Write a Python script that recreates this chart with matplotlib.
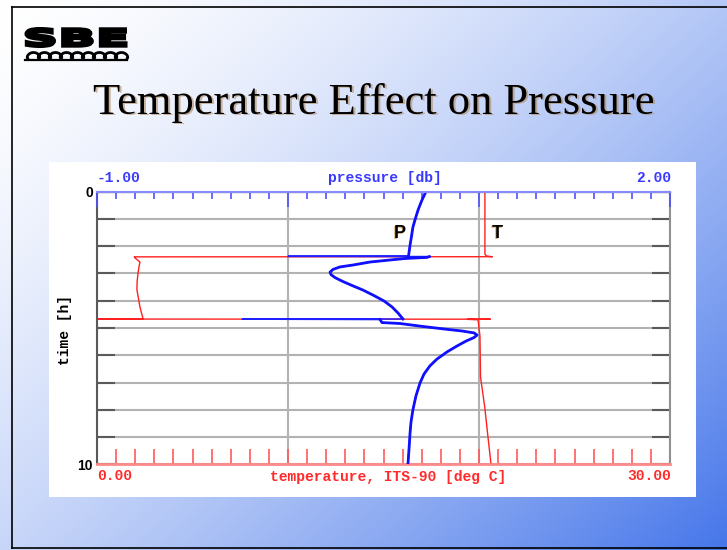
import numpy as np
import matplotlib
matplotlib.use("Agg")
import matplotlib.pyplot as plt
from matplotlib.patches import Rectangle, PathPatch
from matplotlib.textpath import TextPath
from matplotlib.font_manager import FontProperties
from matplotlib.transforms import Affine2D
from matplotlib.ticker import MultipleLocator

W, H = 727, 550

# pressure trace, drawn against the top axis [db]
p_time = [0.0, 0.33, 0.67, 0.96, 1.30, 1.62, 1.96, 2.21, 2.36, 2.37, 2.38,
          2.41, 2.45, 2.505, 2.58, 2.69, 2.76, 2.85, 2.95, 3.04, 3.15, 3.28, 3.44,
          3.61, 3.81, 4.01, 4.23, 4.45, 4.67, 4.675, 4.69,
          4.80, 4.835, 4.945, 5.04, 5.11, 5.18, 5.26, 5.35, 5.48, 5.66, 5.88, 6.14,
          6.39, 6.69, 7.02, 7.49, 8.0, 8.45, 8.85, 9.40, 10.0]
p_db = [0.722, 0.70, 0.681, 0.668, 0.654, 0.647, 0.639, 0.634, 0.631, 0.0, 0.74,
        0.728, 0.613, 0.534, 0.429, 0.340, 0.272, 0.236, 0.220, 0.225, 0.246, 0.283, 0.335,
        0.393, 0.45, 0.503, 0.545, 0.576, 0.602, -0.24, 0.482,
        0.492, 0.586, 0.707, 0.822, 0.911, 0.974, 0.99, 0.974, 0.932, 0.885, 0.832, 0.780,
        0.743, 0.712, 0.691, 0.670, 0.654, 0.644, 0.639, 0.634, 0.628]

# temperature trace, drawn against the bottom axis [deg C]
t_time = [0.0, 2.30, 2.36, 2.385, 2.39, 2.43, 2.58, 2.75, 2.98, 3.30, 3.60, 3.95,
          4.23, 4.66, 4.672, 4.677, 4.682, 4.70, 5.30, 6.80, 7.90, 9.0, 10.0]
t_degc = [20.31, 20.31, 20.4, 20.7, 1.95, 1.99, 2.25, 2.2, 2.15, 2.1, 2.09, 2.18,
          2.25, 2.41, 0.0, 20.6, 19.4, 19.95, 20.05, 20.08, 20.3, 20.47, 20.63]

time_ticks = list(range(11))
time_labels = ["0"] + [""] * 9 + ["10"]
p_range = (-1.0, 2.0)
t_range = (0.0, 30.0)


def fx(px):
    return px / W


def fy(py):
    return 1 - py / H


fig = plt.figure(figsize=(W / 100, H / 100), dpi=100)

# slide background: white top-left fading to blue bottom-right
bg = fig.add_axes([0, 0, 1, 1], zorder=0)
bg.axis("off")
gx, gy = np.meshgrid(np.linspace(0, 1, 300), np.linspace(0, 1, 230))
s = np.clip(0.55 * gx + 0.45 * gy, 0, 1) ** 1.5
c0 = np.array([255, 255, 255]) / 255
c1 = np.array([70, 118, 234]) / 255
img = c0 + (c1 - c0) * s[..., None]
bg.imshow(img, extent=[0, W, H, 0], aspect="auto", origin="upper")
bg.set_xlim(0, W)
bg.set_ylim(H, 0)
bg.plot([12, 12], [7, 548], color="black", lw=1.2)
bg.plot([12, W], [7, 7], color="black", lw=1.2)
bg.plot([12, W], [548, 548], color="black", lw=1.2)
bg.add_patch(Rectangle((49, 162), 647, 335, facecolor="white", edgecolor="none"))

# SBE logo
tp = TextPath((0, 0), "SBE", size=1, prop=FontProperties(family="DejaVu Sans", weight="bold"))
ext = tp.get_extents()
tr = (Affine2D().translate(-ext.x0, -ext.y0)
      .scale(100 / ext.width, -18 / ext.height)
      .translate(26, 46.5))
bg.add_patch(PathPatch(tr.transform_path(tp), facecolor="black", edgecolor="black",
                       lw=2.2, joinstyle="miter"))
u = np.linspace(0, 9 * 2 * np.pi, 900)
r, d = 1.75, 3.0
wx = 28 + r * u - d * np.sin(u)
wy = 55.5 + d * np.cos(u)
bg.plot(wx, wy, color="black", lw=2.0, solid_capstyle="round")
bg.plot([25, 127], [60, 60], color="black", lw=1.6)

# title with its faint drop shadow
fig.text(fx(375.5), fy(104.5), "Temperature Effect on Pressure", ha="center", va="center",
         family="Liberation Serif", size=32, color="#b08a60", alpha=0.6)
fig.text(fx(374), fy(103), "Temperature Effect on Pressure", ha="center", va="center",
         family="Liberation Serif", size=32, color="black")

# chart
ax = fig.add_axes([fx(97), fy(464.3), (670 - 97) / W, (464.3 - 191.7) / H], zorder=1)
ax.patch.set_visible(False)
ax.set_xlim(*t_range)
ax.set_ylim(10, 0)
ax.plot(t_degc, t_time, color="#ff2020", lw=1.0)

ax.set_xticks([0, 10, 20, 30])
ax.xaxis.set_minor_locator(MultipleLocator(1))
ax.set_yticks(time_ticks)
ax.set_yticklabels(time_labels)
ax.grid(True, which="major", color="#b2b2b2", lw=1.5)
ax.tick_params(axis="x", which="both", direction="in", length=10.8, width=1.2,
               color="#ff5a5a", labelbottom=False)
ax.tick_params(axis="y", which="major", direction="in", length=13, width=1.5,
               color="#5a5a5a", left=True, right=True, pad=3)
for lab in ax.get_yticklabels():
    lab.set_fontfamily("Liberation Sans")
    lab.set_fontweight("bold")
    lab.set_fontsize(10)

ax.spines["left"].set_color("#5a5a5a")
ax.spines["right"].set_color("#909090")
ax.spines["bottom"].set_color("#ff8a8a")
for sp in ["left", "right", "bottom"]:
    ax.spines[sp].set_linewidth(1.5)
ax.spines["bottom"].set_linewidth(2.0)

ax2 = ax.twiny()
ax2.set_zorder(2)
ax2.patch.set_visible(False)
ax2.set_xlim(*p_range)
# thin line for the whole record, heavier where the sensor drifts slowly
pt = np.array(p_time)
pv = np.array(p_db)
ax2.plot(pv, pt, color="#2020ff", lw=1.1)
jump = np.zeros(len(pv), dtype=bool)
jump[1:-1] = (np.abs(pv[1:-1] - pv[:-2]) > 0.3) & (np.abs(pv[1:-1] - pv[2:]) > 0.3)
ax2.plot(np.ma.masked_where(jump, pv), pt, color="#1010ff", lw=2.0)
ax2.set_xticks([-1, 0, 1, 2])
ax2.xaxis.set_minor_locator(MultipleLocator(0.1))
ax2.tick_params(axis="x", which="major", direction="in", length=10.8, width=1.2,
                color="#5050ff", labeltop=False)
ax2.tick_params(axis="x", which="minor", direction="in", length=5, width=1.2,
                color="#5050ff")
ax2.spines["top"].set_color("#8a8aff")
ax2.spines["top"].set_linewidth(1.5)
for sp in ["left", "right", "bottom"]:
    ax2.spines[sp].set_visible(False)

mono = dict(family="Liberation Mono", weight="bold", size=10.5)
fig.text(fx(97), fy(178), "-1.00", ha="left", va="center", color="#3a3aff", **mono)
fig.text(fx(385), fy(178), "pressure [db]", ha="center", va="center", color="#3a3aff", **mono)
fig.text(fx(671), fy(178), "2.00", ha="right", va="center", color="#3a3aff", **mono)
fig.text(fx(97), fy(476.5), "0.00", ha="left", va="center", color="#ff2a2a", **mono)
fig.text(fx(388), fy(476.5), "temperature, ITS-90 [deg C]", ha="center", va="center",
         color="#ff2a2a", **mono)
fig.text(fx(671), fy(476.5), "30.00", ha="right", va="center", color="#ff2a2a", **mono)
fig.text(fx(65), fy(330), "time [h]", ha="center", va="center", rotation=90,
         color="black", **mono)

for lbl, px in [("P", 400), ("T", 497)]:
    fig.text(fx(px - 1), fy(234.5), lbl, ha="center", va="center", family="Liberation Sans",
             weight="bold", size=13, color="#d08a30", alpha=0.7)
    fig.text(fx(px), fy(233.5), lbl, ha="center", va="center", family="Liberation Sans",
             weight="bold", size=13, color="black")

fig.savefig("out.png", dpi=100)
